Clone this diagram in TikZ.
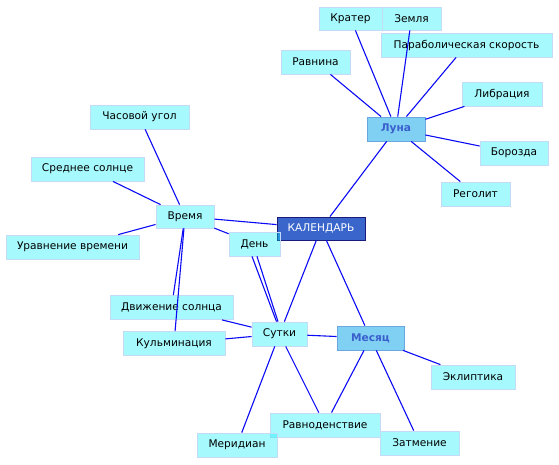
\documentclass[tikz,border=0pt]{standalone}
\usepackage{fontspec}
\setmainfont{DejaVu Sans}
\usepackage{tikz}

\definecolor{sinij}{HTML}{0A0AF5}
\definecolor{goluboj}{HTML}{00F0F8}
\definecolor{ramka}{HTML}{C4DAF6}
\definecolor{glavfon}{HTML}{3A66CC}
\definecolor{glavram}{HTML}{1A1A7A}
\definecolor{razdfon}{HTML}{80D0F4}
\definecolor{razdram}{HTML}{6AA6E0}
\definecolor{razdtxt}{HTML}{3A5FCD}

\begin{document}
\begin{tikzpicture}[
    x=1pt, y=-1pt,
    font=\fontsize{10.6}{12}\selectfont,
    termin/.style={draw=ramka, line width=0.8pt, fill=goluboj, fill opacity=0.35,
        text opacity=1, inner sep=0pt, minimum height=24pt},
    razdel/.style={draw=razdram, line width=0.8pt, fill=razdfon, text=razdtxt,
        font=\fontsize{10.6}{12}\selectfont\bfseries, inner sep=0pt, minimum height=24pt},
    glavnyj/.style={draw=glavram, line width=0.8pt, fill=glavfon, text=white,
        inner sep=0pt, minimum height=23pt},
    svyaz/.style={draw=sinij, line width=1.1pt}
]

\useasboundingbox (0,0) rectangle (559,464);

% Центр
\node[glavnyj, minimum width=88pt] (kal) at (321,228.5) {КАЛЕНДАРЬ};

% Разделы
\node[razdel, minimum width=58pt] (luna) at (396,129) {Луна};
\node[termin, minimum width=58pt, minimum height=23pt] (vremya) at (185,216.5) {Время};
\node[termin, minimum width=55pt] (sutki) at (279.5,334) {Сутки};
\node[razdel, minimum width=67pt] (mesyac) at (370.5,338) {Месяц};

% Луна
\node[termin, minimum width=63pt, minimum height=23pt] (krater) at (350.5,18.5) {Кратер};
\node[termin, minimum width=59pt, minimum height=23pt] (zemlya) at (411.5,18.5) {Земля};
\node[termin, minimum width=171pt] (parab) at (466.5,45) {Параболическая скорость};
\node[termin, minimum width=69pt] (ravnina) at (315.5,62) {Равнина};
\node[termin, minimum width=80pt] (libr) at (502,94) {Либрация};
\node[termin, minimum width=68pt] (boroz) at (514,153) {Борозда};
\node[termin, minimum width=69pt] (regolit) at (475.5,194) {Реголит};

% Время
\node[termin, minimum width=99pt] (chasugol) at (139.5,117) {Часовой угол};
\node[termin, minimum width=113pt] (sredsol) at (87.5,169) {Среднее солнце};
\node[termin, minimum width=133pt] (uravn) at (72.5,247) {Уравнение времени};
\node[termin, minimum width=51pt] (den) at (254.5,244) {День};
\node[termin, minimum width=123pt] (dvizh) at (171.5,307.5) {Движение солнца};
\node[termin, minimum width=102pt] (kulm) at (174,343.5) {Кульминация};

% Месяц и сутки
\node[termin, minimum width=84pt] (eklip) at (473,377) {Эклиптика};
\node[termin, minimum width=110pt] (ravnod) at (325,425) {Равноденствие};
\node[termin, minimum width=80pt] (merid) at (237,445) {Меридиан};
\node[termin, minimum width=79pt] (zatm) at (419.5,443) {Затмение};

% Связи от центра
\draw[svyaz] (kal) -- (luna);
\draw[svyaz] (kal) -- (vremya);
\draw[svyaz] (kal) -- (sutki);
\draw[svyaz] (kal) -- (mesyac);

% Связи Луны
\draw[svyaz] (luna) -- (krater);
\draw[svyaz] (luna) -- (zemlya);
\draw[svyaz] (luna) -- (parab);
\draw[svyaz] (luna) -- (ravnina);
\draw[svyaz] (luna) -- (libr);
\draw[svyaz] (luna) -- (boroz);
\draw[svyaz] (luna) -- (regolit);

% Связи Времени
\draw[svyaz] (vremya) -- (chasugol);
\draw[svyaz] (vremya) -- (sredsol);
\draw[svyaz] (vremya) -- (uravn);
\draw[svyaz] (vremya) -- (den);
\draw[svyaz] (vremya) -- (dvizh);
\draw[svyaz] (vremya) -- (kulm);

% День и сутки
\draw[svyaz] ([xshift=-2.5pt]den.south) -- ([xshift=-3pt]sutki.north);
\draw[svyaz] ([xshift=2.5pt]den.south) -- ([xshift=-1.5pt]sutki.north);

% Связи Суток
\draw[svyaz] (sutki) -- (dvizh);
\draw[svyaz] (sutki) -- (kulm);
\draw[svyaz] (sutki) -- (mesyac);
\draw[svyaz] (sutki) -- (merid);
\draw[svyaz] (sutki) -- (ravnod);

% Связи Месяца
\draw[svyaz] (mesyac) -- (ravnod);
\draw[svyaz] (mesyac) -- (zatm);
\draw[svyaz] (mesyac) -- (eklip);

\end{tikzpicture}
\end{document}
